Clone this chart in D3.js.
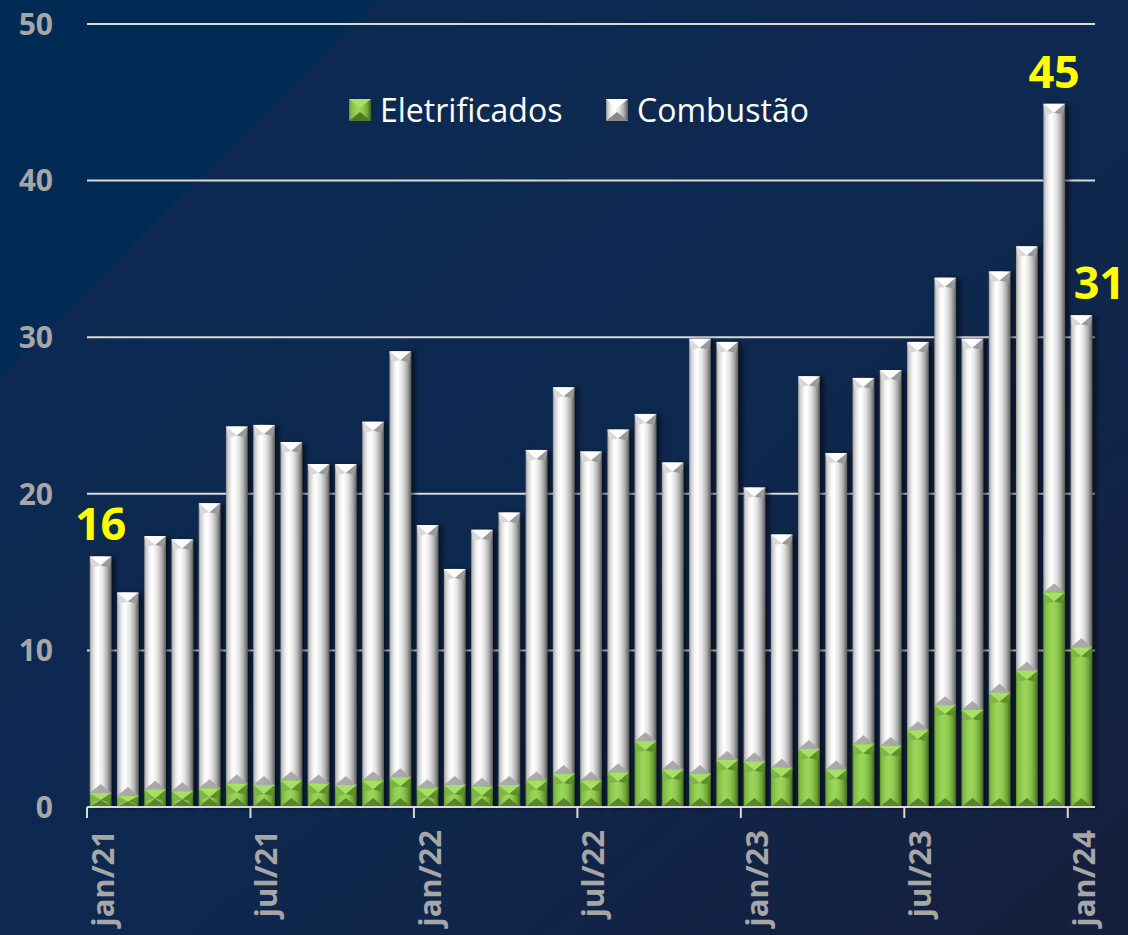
<!DOCTYPE html>
<html>
<head>
<meta charset="utf-8">
<script src="https://cdn.jsdelivr.net/npm/d3@7"></script>
<style>
  body { margin: 0; background: #0c2a50; }
  svg { display: block; }
</style>
</head>
<body>
<div id="chart"></div>
<script>
const width = 1128;
const height = 935;

// data (mil unidades)
const months = ["jan/21","fev/21","mar/21","abr/21","mai/21","jun/21","jul/21","ago/21","set/21","out/21","nov/21","dez/21",
  "jan/22","fev/22","mar/22","abr/22","mai/22","jun/22","jul/22","ago/22","set/22","out/22","nov/22","dez/22",
  "jan/23","fev/23","mar/23","abr/23","mai/23","jun/23","jul/23","ago/23","set/23","out/23","nov/23","dez/23",
  "jan/24"];
const eletrificados = [0.9, 0.7, 1.1, 1.0, 1.2, 1.5, 1.4, 1.7, 1.5, 1.4, 1.7, 1.9,
  1.2, 1.4, 1.3, 1.4, 1.7, 2.1, 1.7, 2.2, 4.2, 2.4, 2.1, 3.0,
  2.9, 2.5, 3.7, 2.4, 4.0, 3.9, 4.9, 6.5, 6.2, 7.3, 8.7, 13.7,
  10.2];
const combustao = [15.1, 13.0, 16.2, 16.1, 18.2, 22.8, 23.0, 21.6, 20.4, 20.5, 22.9, 27.2,
  16.8, 13.8, 16.4, 17.4, 21.1, 24.7, 21.0, 21.9, 20.9, 19.6, 27.8, 26.7,
  17.5, 14.9, 23.8, 20.2, 23.4, 24.0, 24.8, 27.3, 23.7, 26.9, 27.1, 31.2,
  21.2];
const yTicks = [0, 10, 20, 30, 40, 50];
const labeledMonths = ["jan/21", "jul/21", "jan/22", "jul/22", "jan/23", "jul/23", "jan/24"];
const highlight = [{ month: "jan/21", text: "16" }, { month: "dez/23", text: "45" }, { month: "jan/24", text: "31" }];
const seriesNames = ["Eletrificados", "Combustão"];

const svg = d3.select("#chart").append("svg")
    .attr("width", width)
    .attr("height", height);

const defs = svg.append("defs");

// background
const bg = defs.append("linearGradient").attr("id", "bg")
    .attr("x1", 0).attr("y1", 0).attr("x2", 1).attr("y2", 1);
bg.append("stop").attr("offset", 0).attr("stop-color", "#0b2b53");
bg.append("stop").attr("offset", 0.55).attr("stop-color", "#0e284f");
bg.append("stop").attr("offset", 1).attr("stop-color", "#161f3c");

svg.append("rect").attr("width", width).attr("height", height).attr("fill", "url(#bg)");
svg.append("polygon").attr("points", "0,0 378,0 0,378").attr("fill", "#012b55");

// bar gradients
function hGrad(id, stops) {
  const g = defs.append("linearGradient").attr("id", id)
      .attr("x1", 0).attr("y1", 0).attr("x2", 1).attr("y2", 0);
  stops.forEach(s => g.append("stop").attr("offset", s[0]).attr("stop-color", s[1]));
}
hGrad("grayBar", [[0, "#8c8c8c"], [0.08, "#c8c8c8"], [0.25, "#f4f4f4"], [0.38, "#ffffff"], [0.6, "#e4e4e4"], [0.8, "#b0b0b0"], [0.9, "#868686"], [1, "#5a5a5a"]]);
hGrad("greenBar", [[0, "#5d8b2b"], [0.08, "#7fb841"], [0.3, "#96d156"], [0.45, "#9bd65b"], [0.65, "#8cc84d"], [0.85, "#6d9f36"], [1, "#3f6420"]]);

const shadow = defs.append("filter").attr("id", "shadow")
    .attr("x", "-30%").attr("y", "-5%").attr("width", "180%").attr("height", "110%");
shadow.append("feDropShadow").attr("dx", 4).attr("dy", 1).attr("stdDeviation", 2.5)
    .attr("flood-color", "#000").attr("flood-opacity", 0.55);

const x = d3.scaleBand()
    .domain(months)
    .range([87, 1095])
    .paddingInner(0.2)
    .paddingOuter(0.1);

const y = d3.scaleLinear()
    .domain([0, 50])
    .range([807, 24]);

// gridlines
svg.append("g")
    .selectAll("line")
    .data(yTicks.filter(d => d > 0))
    .join("line")
    .attr("x1", 87).attr("x2", 1095)
    .attr("y1", d => y(d)).attr("y2", d => y(d))
    .attr("stroke", "#d9d9d9").attr("stroke-width", 2);

// y labels
svg.append("g")
    .selectAll("text")
    .data(yTicks)
    .join("text")
    .attr("x", 53)
    .attr("y", d => y(d))
    .attr("dy", "0.36em")
    .attr("text-anchor", "end")
    .attr("font-family", "'Open Sans', sans-serif")
    .attr("font-weight", "bold")
    .attr("font-size", 30)
    .attr("fill", "#a6a6a6")
    .text(d => d);

// stacked data
const rows = months.map((m, i) => ({ month: m, Eletrificados: eletrificados[i], "Combustão": combustao[i] }));
const stacked = d3.stack().keys(seriesNames)(rows);

const bw = x.bandwidth();

function segment(g, x0, y0, y1, kind) {
  const h = y1 - y0;
  if (h <= 0) return;
  const d = Math.min(9, h / 2);
  g.append("rect")
      .attr("x", x0).attr("y", y0).attr("width", bw).attr("height", h)
      .attr("fill", kind === "g" ? "url(#greenBar)" : "url(#grayBar)");
  // top bevel
  g.append("polygon")
      .attr("points", [[x0, y0], [x0 + bw, y0], [x0 + bw / 2, y0 + d]].join(" "))
      .attr("fill", kind === "g" ? "#a8e066" : "#ffffff")
      .attr("opacity", 0.95);
  g.append("polygon")
      .attr("points", [[x0, y0], [x0 + bw / 2, y0 + d], [x0 + 2, y0 + d + 2]].join(" "))
      .attr("fill", kind === "g" ? "#7fb446" : "#d8d8d8");
  g.append("polygon")
      .attr("points", [[x0 + bw, y0], [x0 + bw / 2, y0 + d], [x0 + bw - 2, y0 + d + 2]].join(" "))
      .attr("fill", kind === "g" ? "#5f8f2c" : "#9a9a9a");
  // bottom bevel
  g.append("polygon")
      .attr("points", [[x0, y1], [x0 + bw, y1], [x0 + bw / 2, y1 - d]].join(" "))
      .attr("fill", kind === "g" ? "#527d26" : "#a2a2a2")
      .attr("opacity", 0.9);
}

const bars = svg.append("g");
rows.forEach((r, i) => {
  const g = bars.append("g").attr("filter", "url(#shadow)");
  const x0 = x(r.month);
  const e = stacked[0][i];
  const c = stacked[1][i];
  segment(g, x0, y(c[1]), y(c[0]), "c");
  segment(g, x0, y(e[1]), y(e[0]), "g");
});

// x axis line and ticks
svg.append("line")
    .attr("x1", 87).attr("x2", 1095)
    .attr("y1", 807).attr("y2", 807)
    .attr("stroke", "#d9d9d9").attr("stroke-width", 2);

const half = x.step() * x.paddingInner() / 2;
svg.append("g")
    .selectAll("line")
    .data(labeledMonths)
    .join("line")
    .attr("x1", d => x(d) - half).attr("x2", d => x(d) - half)
    .attr("y1", 807).attr("y2", 818)
    .attr("stroke", "#d9d9d9").attr("stroke-width", 2);

svg.append("g")
    .selectAll("text")
    .data(labeledMonths)
    .join("text")
    .attr("transform", d => `translate(${x(d) + bw / 2 + 2},830) rotate(-90)`)
    .attr("dy", "0.36em")
    .attr("text-anchor", "end")
    .attr("font-family", "'Open Sans', sans-serif")
    .attr("font-weight", "bold")
    .attr("font-size", 31)
    .attr("fill", "#a6a6a6")
    .text(d => d);

// highlighted totals
svg.append("g")
    .selectAll("text")
    .data(highlight)
    .join("text")
    .attr("x", d => x(d.month) + bw / 2 + (d.month === "jan/24" ? 18 : 0))
    .attr("y", d => {
      const i = months.indexOf(d.month);
      return y(eletrificados[i] + combustao[i]) - 16;
    })
    .attr("text-anchor", "middle")
    .attr("font-family", "'Open Sans', sans-serif")
    .attr("font-weight", "bold")
    .attr("font-size", 45)
    .attr("fill", "#ffff00")
    .text(d => d.text);

// legend
const legendX = [349, 606];
const legend = svg.append("g")
    .selectAll("g")
    .data(seriesNames)
    .join("g")
    .attr("transform", (d, i) => `translate(${legendX[i]},99)`);

legend.append("rect")
    .attr("width", 22).attr("height", 22)
    .attr("fill", (d, i) => i === 0 ? "url(#greenBar)" : "url(#grayBar)");
legend.append("polygon")
    .attr("points", "0,0 22,0 11,9")
    .attr("fill", (d, i) => i === 0 ? "#a8e066" : "#ffffff");
legend.append("polygon")
    .attr("points", "0,22 22,22 11,13")
    .attr("fill", (d, i) => i === 0 ? "#4f7a24" : "#8a8a8a");
legend.append("text")
    .attr("x", 31)
    .attr("y", 11)
    .attr("dy", "0.36em")
    .attr("font-family", "'Open Sans', sans-serif")
    .attr("font-size", 32)
    .attr("fill", "#ffffff")
    .text(d => d);
</script>
</body>
</html>
